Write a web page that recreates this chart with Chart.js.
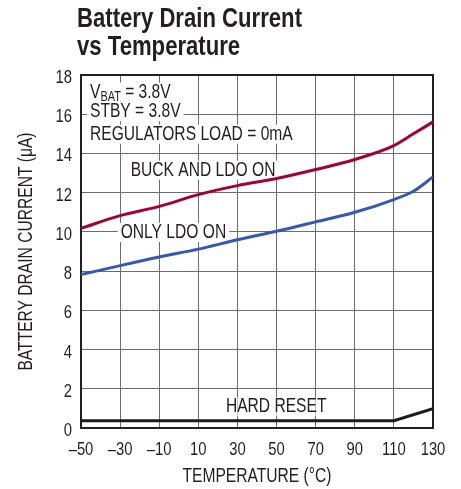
<!DOCTYPE html>
<html><head><meta charset="utf-8">
<script src="https://cdn.jsdelivr.net/npm/chart.js@4"></script>
<style>html,body{margin:0;padding:0;background:#fff}</style>
</head><body>
<canvas id="c" width="461" height="489" style="display:block;width:461px;height:489px"></canvas>
<script>
// ---- data ----
const temperatures = [-50, -30, -10, 10, 30, 50, 70, 90, 110, 120, 130];
const buckAndLdoOn = [10.18, 10.83, 11.3, 11.9, 12.36, 12.72, 13.18, 13.69, 14.4, 15.0, 15.61];
const onlyLdoOn = [7.82, 8.28, 8.72, 9.12, 9.6, 10.03, 10.51, 11.0, 11.65, 12.07, 12.8];
const hardResetTemps = [-50, 110, 130];
const hardReset = [0.37, 0.37, 0.98];
const xTickValues = [-50, -30, -10, 10, 30, 50, 70, 90, 110, 130];
const yTickValues = [0, 2, 4, 6, 8, 10, 12, 14, 16, 18];
const titleLines = ['Battery Drain Current', 'vs Temperature'];
const xTitle = 'TEMPERATURE (°C)';
const yTitle = 'BATTERY DRAIN CURRENT (μA)';
// annotation texts, anchored in data coordinates (left edge, baseline)
const notes = [
  { x: -45.4, y: 16.85, parts: [['V', 0], ['BAT', 1], [' = 3.8V', 0]], alpha: 1 },
  { x: -45.4, y: 15.85, parts: [['STBY = 3.8V', 0]], alpha: 1 },
  { x: -45.4, y: 14.7, parts: [['REGULATORS LOAD = 0mA', 0]], alpha: 1 },
  { x: -24.6, y: 12.87, parts: [['BUCK AND LDO ON', 0]], alpha: 1 },
  { x: -29.7, y: 9.69, parts: [['ONLY LDO ON', 0]], alpha: 1 },
  { x: 24.1, y: 0.8, parts: [['HARD RESET', 0]], alpha: 0.6 }
];

const FONT = '"Liberation Sans", Arial, sans-serif';
const SX = 0.78; // horizontal condensing to mimic a condensed face
const INK = '#231f20';

const toPts = (xs, ys) => xs.map((v, i) => ({ x: v, y: ys[i] }));

function textW(ctx, t, font) { ctx.font = font; return ctx.measureText(t).width * SX; }
function drawText(ctx, t, x, y, font, align) {
  ctx.font = font;
  const w = ctx.measureText(t).width * SX;
  let x0 = x;
  if (align === 'center') x0 = x - w / 2;
  else if (align === 'right') x0 = x - w;
  ctx.save();
  ctx.translate(x0, y);
  ctx.scale(SX, 1);
  ctx.textAlign = 'left';
  ctx.fillText(t, 0, 0);
  ctx.restore();
  return w;
}

const extras = {
  id: 'extras',
  beforeDatasetsDraw(chart) {
    const { ctx, chartArea: a, scales: { x, y } } = chart;
    ctx.save();
    ctx.textBaseline = 'alphabetic';
    notes.forEach(n => {
      let px = x.getPixelForValue(n.x);
      const py = y.getPixelForValue(n.y);
      let w = 0;
      n.parts.forEach(([t, sub]) => { w += textW(ctx, t, (sub ? '14px ' : '20px ') + FONT); });
      ctx.globalAlpha = n.alpha;
      ctx.fillStyle = '#fff';
      ctx.fillRect(px - 3, py - 15, w + 6, 19);
      ctx.globalAlpha = 1;
      ctx.fillStyle = INK;
      n.parts.forEach(([t, sub]) => {
        px += drawText(ctx, t, px, sub ? py + 3 : py, (sub ? '14px ' : '20px ') + FONT, 'left');
      });
    });
    ctx.strokeStyle = INK;
    ctx.lineWidth = 2;
    ctx.strokeRect(a.left, a.top, a.right - a.left, a.bottom - a.top);
    ctx.restore();
  },
  afterDraw(chart) {
    const { ctx, chartArea: a, scales: { x, y } } = chart;
    ctx.save();
    ctx.fillStyle = INK;
    ctx.textBaseline = 'alphabetic';
    // tick labels from the library's scales
    const tf = '19px ' + FONT;
    x.ticks.forEach(t => {
      drawText(ctx, String(t.value).replace('-', '\u2013'), x.getPixelForValue(t.value), a.bottom + 27, tf, 'center');
    });
    y.ticks.forEach(t => {
      drawText(ctx, String(t.value), a.left - 9, y.getPixelForValue(t.value) + 8, tf, 'right');
    });
    // main title (bold condensed)
    ctx.font = 'bold 27px ' + FONT;
    const k = 225 / ctx.measureText(titleLines[0]).width;
    titleLines.forEach((t, i) => {
      ctx.save();
      ctx.translate(77, 27 + i * 28);
      ctx.scale(k, 1);
      ctx.fillText(t, 0, 0);
      ctx.restore();
    });
    // axis titles
    const af = '20px ' + FONT;
    drawText(ctx, xTitle, (a.left + a.right) / 2, 482, af, 'center');
    ctx.save();
    ctx.translate(32, (a.top + a.bottom) / 2);
    ctx.rotate(-Math.PI / 2);
    drawText(ctx, yTitle, 0, 0, af, 'center');
    ctx.restore();
    ctx.restore();
  }
};

new Chart(document.getElementById('c'), {
  type: 'line',
  data: {
    datasets: [
      { label: 'BUCK AND LDO ON', data: toPts(temperatures, buckAndLdoOn), borderColor: '#a3003a', borderWidth: 3, pointRadius: 0, cubicInterpolationMode: 'monotone' },
      { label: 'ONLY LDO ON', data: toPts(temperatures, onlyLdoOn), borderColor: '#3558b0', borderWidth: 3, pointRadius: 0, cubicInterpolationMode: 'monotone' },
      { label: 'HARD RESET', data: toPts(hardResetTemps, hardReset), borderColor: '#1a1a1a', borderWidth: 3, pointRadius: 0, tension: 0 }
    ]
  },
  options: {
    responsive: false,
    animation: false,
    devicePixelRatio: 1,
    layout: { padding: { top: 75, right: 28, bottom: 0, left: 0 } },
    plugins: { legend: { display: false }, title: { display: false }, tooltip: { enabled: false } },
    scales: {
      x: {
        type: 'linear', min: -50, max: 130,
        afterBuildTicks: s => { s.ticks = xTickValues.map(v => ({ value: v })); },
        afterFit: s => { s.height = 61; },
        grid: { color: '#6d6d6d', lineWidth: 1, drawTicks: false },
        border: { display: false },
        ticks: { display: false }
      },
      y: {
        type: 'linear', min: 0, max: 18,
        afterBuildTicks: s => { s.ticks = yTickValues.map(v => ({ value: v })); },
        afterFit: s => { s.width = 81; },
        grid: { color: '#6d6d6d', lineWidth: 1, drawTicks: false },
        border: { display: false },
        ticks: { display: false }
      }
    }
  },
  plugins: [extras]
});
</script>
</body></html>
